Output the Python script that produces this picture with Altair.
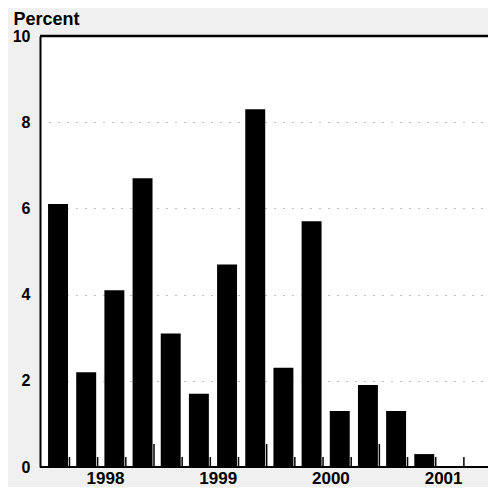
import altair as alt
import pandas as pd

# Quarterly values, 1998Q1 - 2001Q4 (percent)
years = [1998] * 4 + [1999] * 4 + [2000] * 4 + [2001] * 4
quarters = [1, 2, 3, 4] * 4
values = [6.1, 2.2, 4.1, 6.7, 3.1, 1.7, 4.7, 8.3, 2.3, 5.7, 1.3, 1.9, 1.3, 0.3, 0.0, 0.0]

year_labels = [1998, 1999, 2000, 2001]
y_ticks = [0, 2, 4, 6, 8, 10]

FONT = "Liberation Sans"
W, H = 448, 431
X0, X1 = 1997.9885, 2001.964

df = pd.DataFrame({"year": years, "quarter": quarters, "value": values})
df["start"] = df["year"] + (df["quarter"] - 1) / 4 + 0.06
df["end"] = df["year"] + (df["quarter"] - 1) / 4 + 0.237

bounds = [y + q / 4 for y in year_labels for q in range(1, 5)]
ticks = pd.DataFrame({"t": bounds})
ticks = ticks[ticks["t"] < X1]
ticks["major"] = ticks["t"].apply(lambda v: float(v).is_integer())

labels = pd.DataFrame({"year": year_labels})
labels["pos"] = labels["year"] + 0.57
labels["text"] = labels["year"].astype(str)

frame = pd.DataFrame({"a": [X0], "b": [X1]})

xscale = alt.Scale(domain=[X0, X1], nice=False, zero=False)
yscale = alt.Scale(domain=[0, 10], nice=False)

bars = alt.Chart(df).mark_bar(color="black").encode(
    x=alt.X("start:Q", scale=xscale, axis=None),
    x2="end:Q",
    y=alt.Y(
        "value:Q",
        scale=yscale,
        axis=alt.Axis(
            values=y_ticks,
            grid=True,
            gridDash=[1, 8],
            gridColor="black",
            gridOpacity=0.5,
            ticks=False,
            domain=True,
            domainColor="black",
            domainWidth=2,
            labelPadding=10,
            labelFontSize=16,
            labelFont=FONT,
            labelFontWeight="bold",
            labelColor="black",
            title="Percent",
            titleAngle=0,
            titleAlign="left",
            titleBaseline="alphabetic",
            titleX=-27,
            titleY=-12,
            titleFont=FONT,
            titleFontSize=18,
            titleFontWeight="bold",
            titleColor="black",
        ),
    ),
    y2=alt.datum(0),
)

top_line = alt.Chart(frame).mark_rule(color="black", strokeWidth=2.5).encode(
    x=alt.X("a:Q", scale=xscale), x2="b:Q", y=alt.datum(10, scale=yscale)
)
bottom_line = alt.Chart(frame).mark_rule(color="black", strokeWidth=2).encode(
    x=alt.X("a:Q", scale=xscale), x2="b:Q", y=alt.datum(0, scale=yscale)
)

minor = alt.Chart(ticks).transform_filter("!datum.major").mark_rule(
    color="black", strokeWidth=1.5
).encode(x=alt.X("t:Q", scale=xscale), y=alt.value(H), y2=alt.value(H - 10))

major = alt.Chart(ticks).transform_filter("datum.major").mark_rule(
    color="black", strokeWidth=1.5
).encode(x=alt.X("t:Q", scale=xscale), y=alt.value(H), y2=alt.value(H - 23))

year_text = alt.Chart(labels).mark_text(
    font=FONT, fontSize=17, fontWeight="bold", color="black",
    align="center", baseline="alphabetic"
).encode(x=alt.X("pos:Q", scale=xscale), y=alt.value(H + 17), text="text:N")

chart = alt.layer(bars, minor, major, top_line, bottom_line, year_text).properties(
    width=W,
    height=H,
    autosize=alt.AutoSizeParams(type="none"),
    padding={"left": 32, "top": 28, "right": 0, "bottom": 20},
    background="#f0f0f0",
).configure_view(stroke=None, fill="white")

chart.save("out.html", embed_options={"renderer": "svg", "actions": False})
